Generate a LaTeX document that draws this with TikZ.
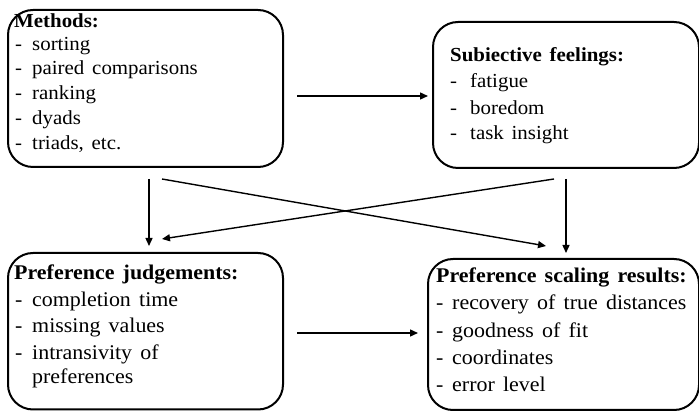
\documentclass[tikz,border=0pt]{standalone}
\usepackage{fontspec}
\setmainfont[FakeStretch=1.05, WordSpace=1.5]{Liberation Serif}
\usetikzlibrary{arrows.meta}
\tikzset{
  box/.style={draw, line width=2pt, rounded corners=25pt, inner sep=0pt},
  txt/.style={anchor=base west, inner sep=0pt, font=\fontsize{19.9}{23}\selectfont},
  head/.style={anchor=base west, inner sep=0pt, font=\fontsize{19.9}{23}\selectfont\bfseries},
  txtb/.style={anchor=base west, inner sep=0pt, font=\fontsize{20.9}{24}\selectfont},
  headb/.style={anchor=base west, inner sep=0pt, font=\fontsize{20.9}{24}\selectfont\bfseries},
  arr/.style={line width=1.4pt, -{Triangle[length=8pt,width=7pt]}}
}
\begin{document}
\begin{tikzpicture}[x=1pt,y=-1pt]
\useasboundingbox[fill=white] (0,0) rectangle (699,411);
% boxes
\node[box, minimum width=275pt, minimum height=157pt] (M) at (145.5,88.5) {};
\node[box, minimum width=266pt, minimum height=146pt] (S) at (566,95) {};
\node[box, minimum width=275pt, minimum height=156.5pt] (J) at (145.5,331.25) {};
\node[box, minimum width=271pt, minimum height=151pt] (R) at (563.5,334.5) {};
% Methods
\node[head] (mh) at (14,28) {Methods:};
\node[txt] (md1) at (15,51) {-};  \node[txt] (mt1) at (32,51) {sorting};
\node[txt] (md2) at (15,75) {-};  \node[txt] (mt2) at (32,75) {paired comparisons};
\node[txt] (md3) at (15,100) {-}; \node[txt] (mt3) at (32,100) {ranking};
\node[txt] (md4) at (15,125) {-}; \node[txt] (mt4) at (32,125) {dyads};
\node[txt] (md5) at (15,150) {-}; \node[txt] (mt5) at (32,150) {triads, etc.};
% Subjective
\node[head] (sh) at (450,62) {Subiective feelings:};
\node[txt] (sd1) at (450,88) {-};  \node[txt] (st1) at (470,88) {fatigue};
\node[txt] (sd2) at (450,115) {-}; \node[txt] (st2) at (470,115) {boredom};
\node[txt] (sd3) at (450,140) {-}; \node[txt] (st3) at (470,140) {task insight};
% Judgements
\node[headb] (jh) at (14,280) {Preference judgements:};
\node[txtb] (jd1) at (15,307) {-}; \node[txtb] (jt1) at (32,307) {completion time};
\node[txtb] (jd2) at (15,333) {-}; \node[txtb] (jt2) at (32,333) {missing values};
\node[txtb] (jd3) at (15,360) {-}; \node[txtb] (jt3) at (32,360) {intransivity of};
\node[txtb] (jt4) at (32,384) {preferences};
% Results
\node[headb] (rh) at (436,283) {Preference scaling results:};
\node[txtb] (rd1) at (436,310) {-}; \node[txtb] (rt1) at (452,310) {recovery of true distances};
\node[txtb] (rd2) at (436,338) {-}; \node[txtb] (rt2) at (452,338) {goodness of fit};
\node[txtb] (rd3) at (436,365) {-}; \node[txtb] (rt3) at (452,365) {coordinates};
\node[txtb] (rd4) at (436,392) {-}; \node[txtb] (rt4) at (452,392) {error level};
% connector end points
\coordinate (ms1) at (297,96);  \coordinate (ms2) at (428,96);
\coordinate (mj1) at (149,179); \coordinate (mj2) at (149,246);
\coordinate (mr1) at (162,179); \coordinate (mr2) at (546,246);
\coordinate (sj1) at (554,179); \coordinate (sj2) at (162,239);
\coordinate (sr1) at (566,179); \coordinate (sr2) at (566,253);
\coordinate (jr1) at (297,333); \coordinate (jr2) at (418,333);
\draw[arr] (ms1) -- (ms2);
\draw[arr] (mj1) -- (mj2);
\draw[arr] (mr1) -- (mr2);
\draw[arr] (sj1) -- (sj2);
\draw[arr] (sr1) -- (sr2);
\draw[arr] (jr1) -- (jr2);
\end{tikzpicture}
\end{document}
